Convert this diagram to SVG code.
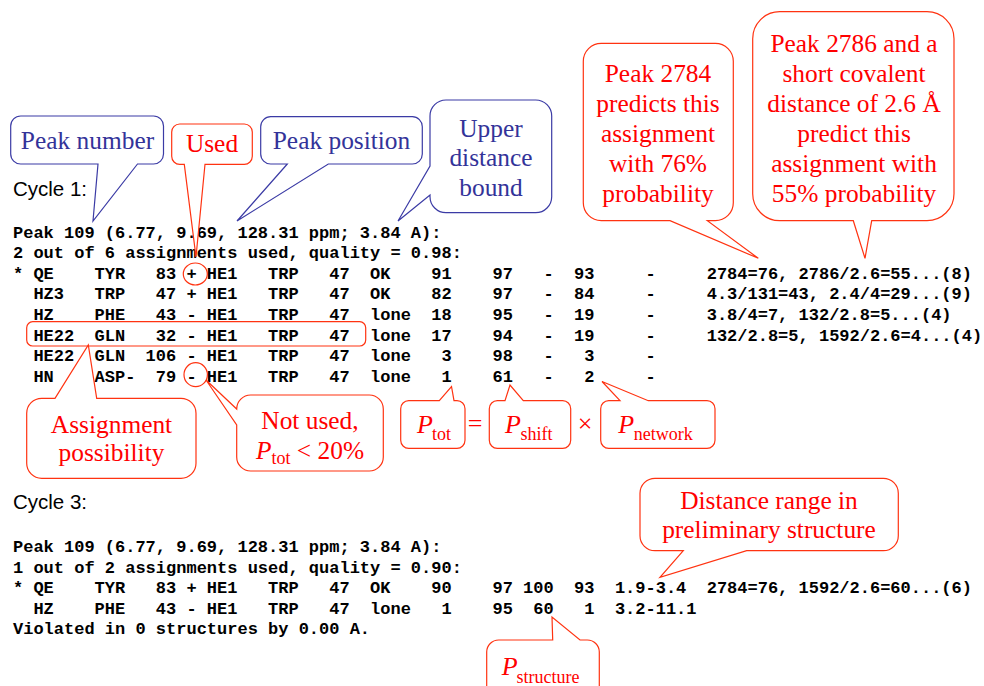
<svg xmlns="http://www.w3.org/2000/svg" width="984" height="686" viewBox="0 0 984 686">
<style>
.mono{font-family:"Liberation Mono","Courier New",monospace;font-weight:bold;font-size:17px;fill:#000}
.sans{font-family:"Liberation Sans",Arial,sans-serif;font-size:20.5px;fill:#000}
.tb{font-family:"Liberation Serif","Times New Roman",serif;font-size:25.4px;fill:#333399;text-anchor:middle}
.tr{font-family:"Liberation Serif","Times New Roman",serif;font-size:25.4px;fill:#ff0000;text-anchor:middle}
.tf{font-family:"Liberation Serif","Times New Roman",serif;font-size:26px;fill:#ff0000}
.pi{font-style:italic}
.sub{font-size:18px;font-style:normal}
.cb{fill:#fff;stroke:#3b3ba5;stroke-width:1.2}
.cr{fill:#fff;stroke:#ff3311;stroke-width:1.2}
.mk{fill:none;stroke:#ff3311;stroke-width:1.2}
</style>
<rect width="984" height="686" fill="#fff"/>

<g id="cycle1">
<text class="sans" x="13" y="196">Cycle 1:</text>
<text class="mono" xml:space="preserve" x="13" y="237.5">Peak 109 (6.77, 9.69, 128.31 ppm; 3.84 A):</text>
<text class="mono" xml:space="preserve" x="13" y="258.1">2 out of 6 assignments used, quality = 0.98:</text>
<text class="mono" xml:space="preserve" x="13" y="278.7">* QE    TYR   83 + HE1   TRP   47  OK    91    97   -  93     -     2784=76, 2786/2.6=55...(8)</text>
<text class="mono" xml:space="preserve" x="13" y="299.3">  HZ3   TRP   47 + HE1   TRP   47  OK    82    97   -  84     -     4.3/131=43, 2.4/4=29...(9)</text>
<text class="mono" xml:space="preserve" x="13" y="319.9">  HZ    PHE   43 - HE1   TRP   47  lone  18    95   -  19     -     3.8/4=7, 132/2.8=5...(4)</text>
<text class="mono" xml:space="preserve" x="13" y="340.5">  HE22  GLN   32 - HE1   TRP   47  lone  17    94   -  19     -     132/2.8=5, 1592/2.6=4...(4)</text>
<text class="mono" xml:space="preserve" x="13" y="361.1">  HE22  GLN  106 - HE1   TRP   47  lone   3    98   -   3     -</text>
<text class="mono" xml:space="preserve" x="13" y="381.7">  HN    ASP-  79 - HE1   TRP   47  lone   1    61   -   2     -</text>
</g>

<g id="cycle3">
<text class="sans" x="13" y="509">Cycle 3:</text>
<text class="mono" xml:space="preserve" x="13" y="552">Peak 109 (6.77, 9.69, 128.31 ppm; 3.84 A):</text>
<text class="mono" xml:space="preserve" x="13" y="572.6">1 out of 2 assignments used, quality = 0.90:</text>
<text class="mono" xml:space="preserve" x="13" y="593.2">* QE    TYR   83 + HE1   TRP   47  OK    90    97 100  93  1.9-3.4  2784=76, 1592/2.6=60...(6)</text>
<text class="mono" xml:space="preserve" x="13" y="613.8">  HZ    PHE   43 - HE1   TRP   47  lone   1    95  60   1  3.2-11.1</text>
<text class="mono" xml:space="preserve" x="13" y="634.4">Violated in 0 structures by 0.00 A.</text>
</g>

<g id="marks">
<rect class="mk" x="26.7" y="321.7" width="339" height="24.3" rx="6"/>
<ellipse class="mk" cx="195.3" cy="274" rx="12" ry="11"/>
<ellipse class="mk" cx="195.7" cy="374.7" rx="11.7" ry="12"/>
</g>

<g id="connectors"></g>

<g id="peak-number">
<path class="cb" d="M20.7,116 H153.5 A10,10 0 0 1 163.5,126 V154 A10,10 0 0 1 153.5,164 H137.5 L93,221 L98,164 H20.7 A10,10 0 0 1 10.7,154 V126 A10,10 0 0 1 20.7,116 Z"/>
<text class="tb" x="87.5" y="149">Peak number</text>
</g>

<g id="used">
<path class="cr" d="M179.7,124 H244.3 A8,8 0 0 1 252.3,132 V156.3 A8,8 0 0 1 244.3,164.3 H205 L196,257 L184.3,164.3 H179.7 A8,8 0 0 1 171.7,156.3 V132 A8,8 0 0 1 179.7,124 Z"/>
<text class="tr" x="212" y="152.3">Used</text>
</g>

<g id="peak-position">
<path class="cb" d="M270.7,116.7 H412.3 A10,10 0 0 1 422.3,126.7 V154 A10,10 0 0 1 412.3,164 H328.3 L237,221 L287.3,164 H270.7 A10,10 0 0 1 260.7,154 V126.7 A10,10 0 0 1 270.7,116.7 Z"/>
<text class="tb" x="341.5" y="148.5">Peak position</text>
</g>

<g id="upper-bound">
<path class="cb" d="M446,100 H535.7 A16,16 0 0 1 551.7,116 V196.7 A16,16 0 0 1 535.7,212.7 H446 A16,16 0 0 1 430,196.7 V195 L398,221 L430,166 V116 A16,16 0 0 1 446,100 Z"/>
<text class="tb" x="491" y="136.7">Upper</text>
<text class="tb" x="491" y="166.2">distance</text>
<text class="tb" x="491" y="195.7">bound</text>
</g>

<g id="peak-2784">
<path class="cr" d="M601.3,43.3 H715.3 A18,18 0 0 1 733.3,61.3 V202.7 A18,18 0 0 1 715.3,220.7 H707.3 L758.3,258.3 L670,220.7 H601.3 A18,18 0 0 1 583.3,202.7 V61.3 A18,18 0 0 1 601.3,43.3 Z"/>
<text class="tr" x="658" y="81.7">Peak 2784</text>
<text class="tr" x="658" y="111.7">predicts this</text>
<text class="tr" x="658" y="141.7">assignment</text>
<text class="tr" x="658" y="171.7">with 76%</text>
<text class="tr" x="658" y="201.7">probability</text>
</g>

<g id="peak-2786">
<path class="cr" d="M779.7,11.7 H927 A27,27 0 0 1 954,38.7 V193.7 A27,27 0 0 1 927,220.7 H871.7 L865,258.3 L853.3,220.7 H779.7 A27,27 0 0 1 752.7,193.7 V38.7 A27,27 0 0 1 779.7,11.7 Z"/>
<text class="tr" x="854" y="51.7">Peak 2786 and a</text>
<text class="tr" x="854" y="81.7">short covalent</text>
<text class="tr" x="854" y="111.7">distance of 2.6 Å</text>
<text class="tr" x="854" y="141.7">predict this</text>
<text class="tr" x="854" y="171.7">assignment with</text>
<text class="tr" x="854" y="201.7">55% probability</text>
</g>

<g id="assignment-possibility">
<path class="cr" d="M41.7,398.3 H55 L88.3,345 L96.7,398.3 H181 A15,15 0 0 1 196,413.3 V463.3 A15,15 0 0 1 181,478.3 H41.7 A15,15 0 0 1 26.7,463.3 V413.3 A15,15 0 0 1 41.7,398.3 Z"/>
<text class="tr" x="111.5" y="433.3">Assignment</text>
<text class="tr" x="111.5" y="460.7">possibility</text>
</g>

<g id="not-used">
<path class="cr" d="M250.7,395 H369.3 A14,14 0 0 1 383.3,409 V457 A14,14 0 0 1 369.3,471 H250.7 A14,14 0 0 1 236.7,457 V425 L206,380 L236.7,409 A14,14 0 0 1 250.7,395 Z"/>
<text class="tr" x="310" y="429.3">Not used,</text>
<text class="tr" x="310" y="459.3"><tspan class="pi">P</tspan><tspan class="sub" font-size="17px" dy="5">tot</tspan><tspan dy="-5"> &lt; 20%</tspan></text>
</g>

<g id="p-tot">
<path class="cr" d="M408.7,400.7 H439.3 L451.5,386.5 L454,400.7 H457 A8,8 0 0 1 465,408.7 V440.3 A8,8 0 0 1 457,448.3 H408.7 A8,8 0 0 1 400.7,440.3 V408.7 A8,8 0 0 1 408.7,400.7 Z"/>
<text class="tf" x="417" y="433.3"><tspan class="pi">P</tspan><tspan class="sub" dx="-1" dy="6.7">tot</tspan></text>
</g>

<g id="equals">
<text class="tf" x="475" y="431.5" text-anchor="middle">=</text>
</g>

<g id="p-shift">
<path class="cr" d="M497.3,400.7 H505 L510,385 L523.3,400.7 H562.7 A8,8 0 0 1 570.7,408.7 V440.3 A8,8 0 0 1 562.7,448.3 H497.3 A8,8 0 0 1 489.3,440.3 V408.7 A8,8 0 0 1 497.3,400.7 Z"/>
<text class="tf" x="505" y="433.3"><tspan class="pi">P</tspan><tspan class="sub" dx="-0.5" dy="6.7">shift</tspan></text>
</g>

<g id="times">
<text class="tf" x="585" y="431.5" text-anchor="middle">×</text>
</g>

<g id="p-network">
<path class="cr" d="M608.7,400.7 H620 L602,381.5 L648.3,400.7 H707 A8,8 0 0 1 715,408.7 V440.3 A8,8 0 0 1 707,448.3 H608.7 A8,8 0 0 1 600.7,440.3 V408.7 A8,8 0 0 1 608.7,400.7 Z"/>
<text class="tf" x="618.3" y="433.3"><tspan class="pi">P</tspan><tspan class="sub" dx="-0.5" dy="6.7">network</tspan></text>
</g>

<g id="distance-range">
<path class="cr" d="M655,478.3 H883.3 A15,15 0 0 1 898.3,493.3 V535.7 A15,15 0 0 1 883.3,550.7 H746.7 L660,577.3 L683.3,550.7 H655 A15,15 0 0 1 640,535.7 V493.3 A15,15 0 0 1 655,478.3 Z"/>
<text class="tr" x="769" y="509.3">Distance range in</text>
<text class="tr" x="769" y="538.3">preliminary structure</text>
</g>

<g id="p-structure">
<path class="cr" d="M498.7,640 H552.7 L552,617 L580,640 H587.3 A12,12 0 0 1 599.3,652 V700 H486.7 V652 A12,12 0 0 1 498.7,640 Z"/>
<text class="tf" x="501.7" y="675" font-size="27px"><tspan class="pi">P</tspan><tspan class="sub" dx="-1" dy="8" font-size="18.7px">structure</tspan></text>
</g>
</svg>
